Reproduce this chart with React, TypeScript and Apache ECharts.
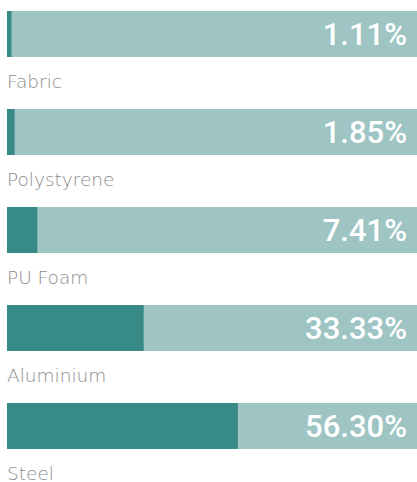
import React, { useEffect, useRef } from "react";
import * as echarts from "echarts";

const categories = ["Fabric", "Polystyrene", "PU Foam", "Aluminium", "Steel"];
const values = [1.11, 1.85, 7.41, 33.33, 56.3];
const fullValues = [100, 100, 100, 100, 100];

export default function App() {
  const ref = useRef<HTMLDivElement>(null);
  useEffect(() => {
    if (!ref.current) return;
    const chart = echarts.init(ref.current, null, { renderer: "svg" });
    chart.setOption({
      animation: false,
      grid: { left: 7, right: 0, top: 0, bottom: 7 },
      xAxis: { type: "value", min: 0, max: 100, show: false },
      yAxis: {
        type: "category",
        data: categories,
        inverse: true,
        show: false,
      },
      series: [
        {
          type: "bar",
          data: fullValues,
          barWidth: 46,
          barGap: "-100%",
          silent: true,
          itemStyle: { color: "#9ec5c4" },
          label: {
            show: true,
            position: "insideRight",
            distance: 10,
            color: "#ffffff",
            fontFamily: "Roboto",
            fontWeight: 500,
            fontSize: 31,
            formatter: (p: any) => values[p.dataIndex].toFixed(2) + "%",
          },
          z: 1,
        },
        {
          type: "bar",
          data: values,
          barWidth: 46,
          barGap: "-100%",
          itemStyle: { color: "#388a87" },
          label: {
            show: true,
            position: [0, 70],
            align: "left",
            verticalAlign: "middle",
            color: "#8c8c8c",
            fontFamily: "DejaVu Sans",
            fontWeight: 200,
            fontSize: 18.5,
            formatter: "{b}",
          },
          z: 2,
        },
      ],
    });
    return () => chart.dispose();
  }, []);
  return (
    <div
      ref={ref}
      style={{ position: "absolute", left: 0, top: -15, width: 417, height: 497 }}
    />
  );
}
